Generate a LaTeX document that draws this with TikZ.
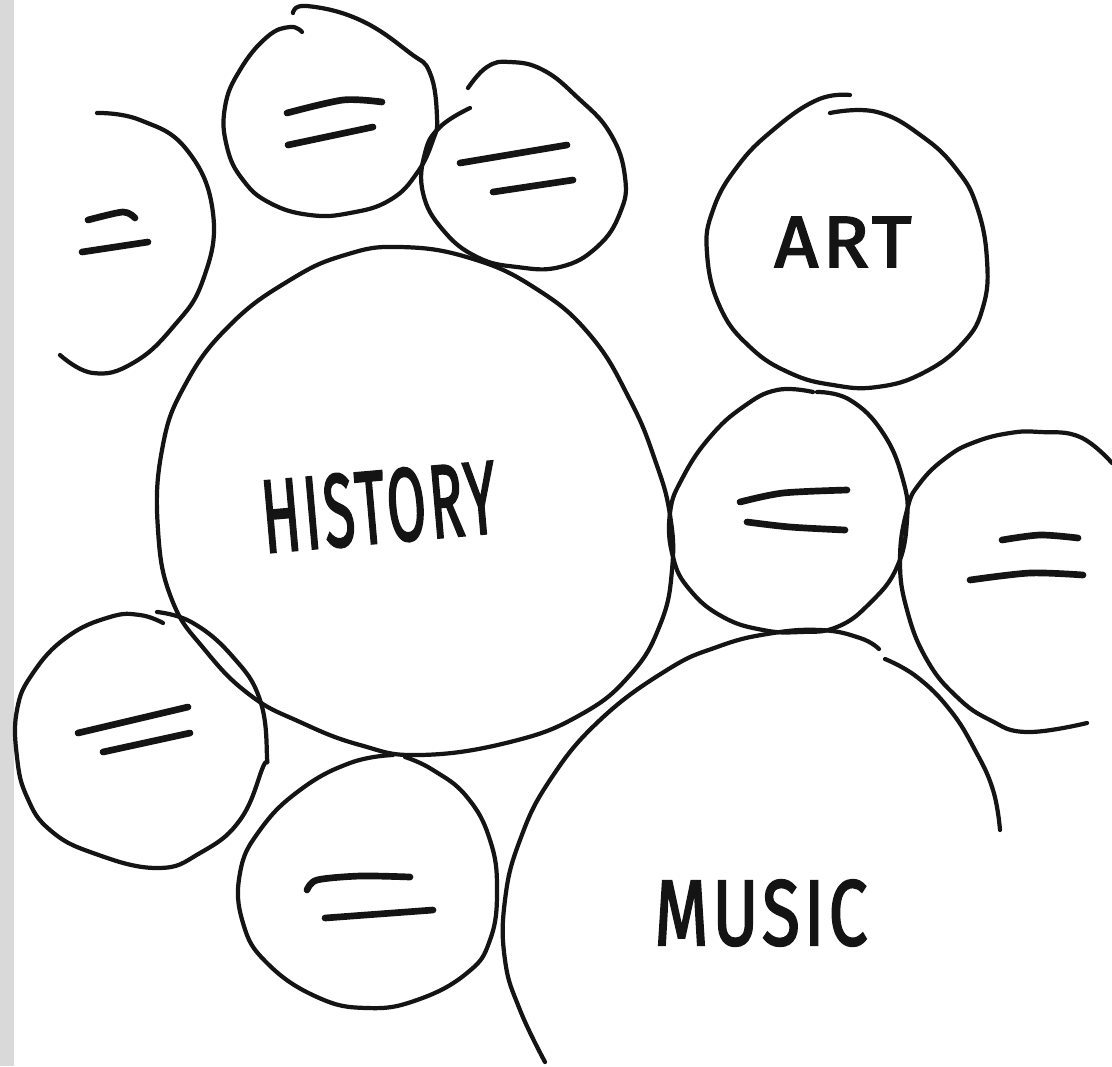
\documentclass[tikz,border=0pt]{standalone}
\usepackage{fontspec}
\setmainfont{Fira Sans}
\newfontfamily\handfont{Fira Sans}[FakeBold=2.5, LetterSpace=6]
\definecolor{ink}{HTML}{141414}
\definecolor{stripe}{HTML}{D9D9D9}
\begin{document}
\begin{tikzpicture}[x=0.02cm,y=-0.02cm,
  sketch/.style={draw=ink, line width=2.4pt, line cap=round, line join=round},
  dashline/.style={draw=ink, line width=3.8pt, line cap=round},
  label/.style={inner sep=0pt, text=ink, font=\handfont}]
\useasboundingbox (0,0) rectangle (1112,1066);
\fill[white] (0,0) rectangle (1112,1066);
\fill[stripe] (0,0) rectangle (14,1066);

% HISTORY circle
\draw[sketch] plot[smooth cycle, tension=0.75] coordinates {
 (400,247) (470,258) (535,288) (590,335) (630,400) (655,460) (670,515) (672,570)
 (660,625) (630,675) (580,715) (510,742) (420,755) (360,745) (300,722) (250,695)
 (205,650) (172,600) (158,530) (162,450) (185,385) (230,325) (290,280) (345,255)};

% ART circle
\draw[sketch] plot[smooth, tension=0.75] coordinates {
 (830,113) (877,112) (923,137) (957,170) (977,207) (987,260) (983,307) (963,343)
 (923,373) (877,387) (833,385) (790,373) (750,347) (720,307) (707,253) (713,210)
 (737,167) (773,130) (817,100) (850,95)};

% middle right circle
\draw[sketch] plot[smooth, tension=0.75] coordinates {
 (817,392) (850,400) (883,433) (903,480) (907,520) (897,567) (870,603) (837,627)
 (800,632) (763,630) (723,617) (690,590) (673,557) (670,513) (683,477) (710,437)
 (743,407) (777,390) (813,392)};

% far right partial circle
\draw[sketch] plot[smooth, tension=0.75] coordinates {
 (1112,463) (1080,437) (1040,432) (1010,433) (975,442) (947,457) (920,483) (907,510)
 (900,560) (907,610) (927,660) (957,697) (990,720) (1027,732) (1087,723)};

% MUSIC circle
\draw[sketch] plot[smooth, tension=0.75] coordinates {
 (545,1062) (520,1010) (505,960) (505,900) (520,840) (550,780) (600,720) (667,670)
 (717,647) (767,634) (820,630) (860,638) (879,649)};
\draw[sketch] plot[smooth, tension=0.75] coordinates {
 (885,659) (917,677) (950,710) (975,750) (993,790) (1000,830)};

% top-left partial circle
\draw[sketch] plot[smooth, tension=0.75] coordinates {
 (97,113) (140,120) (187,150) (213,213) (203,280) (173,327) (133,363) (93,373) (60,355)};

% top circle 1
\draw[sketch] plot[smooth, tension=0.75] coordinates {
 (293,13) (307,6) (360,20) (410,53) (430,73) (437,117) (433,140) (417,173) (390,200)
 (350,213) (310,215) (270,203) (243,180) (227,147) (225,107) (240,70) (267,37)
 (290,27) (302,32)};

% top circle 2
\draw[sketch] plot[smooth, tension=0.75] coordinates {
 (468,88) (487,67) (510,62) (543,70) (577,97) (610,133) (625,177) (620,213) (597,247)
 (560,267) (517,267) (477,257) (443,230) (423,193) (425,153) (440,127) (470,108)};

% bottom left circle
\draw[sketch] plot[smooth, tension=0.75] coordinates {
 (163,623) (140,615) (110,617) (67,637) (33,673) (17,710) (17,757) (27,797) (50,830)
 (93,853) (157,868) (200,853) (240,820) (263,767) (267,757) (260,700) (233,657)
 (193,623) (157,612)};

% bottom middle circle
\draw[sketch] plot[smooth, tension=0.75] coordinates {
 (393,755) (350,763) (300,790) (260,830) (240,873) (243,923) (267,963) (317,997)
 (367,1008) (417,1000) (467,973) (490,940) (497,890) (490,840) (467,797) (433,770)
 (405,757)};

% double lines
\draw[dashline] plot[smooth] coordinates {(88,220) (123,212) (135,218)};
\draw[dashline] (82,252) -- (148,242);
\draw[dashline] plot[smooth] coordinates {(287,113) (343,100) (382,102)};
\draw[dashline] (288,145) -- (373,127);
\draw[dashline] (460,163) -- (567,145);
\draw[dashline] (493,192) -- (573,180);
\draw[dashline] plot[smooth] coordinates {(740,502) (783,493) (847,490)};
\draw[dashline] plot[smooth] coordinates {(747,522) (790,527) (845,530)};
\draw[dashline] plot[smooth] coordinates {(1002,540) (1040,535) (1078,538)};
\draw[dashline] plot[smooth] coordinates {(970,580) (1030,573) (1083,575)};
\draw[dashline] (78,733) -- (188,707);
\draw[dashline] (103,752) -- (190,733);
\draw[dashline] plot[smooth] coordinates {(307,890) (317,880) (360,876) (410,877)};
\draw[dashline] (325,918) -- (433,910);

% labels
\node[label, rotate=5] (history) at (379,507) {\resizebox{4.7cm}{1.45cm}{HISTORY}};
\node[label] (art) at (843,242) {\resizebox{2.74cm}{1.0cm}{ART}};
\node[label] (music) at (761,913) {\resizebox{4.26cm}{1.3cm}{MUSIC}};
\end{tikzpicture}
\end{document}
